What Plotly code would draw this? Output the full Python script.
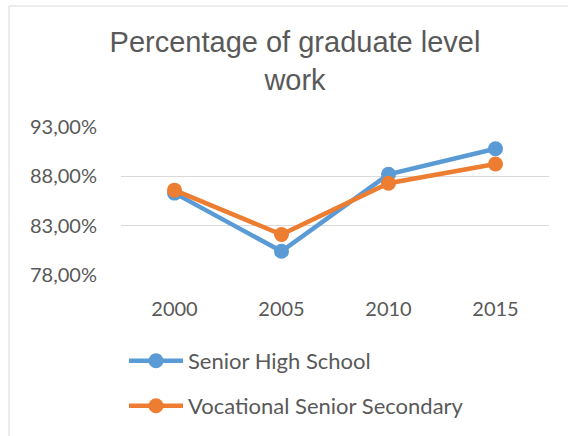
import plotly.graph_objects as go

years = ["2000", "2005", "2010", "2015"]
senior_high = [86.3, 80.4, 88.2, 90.8]
vocational = [86.6, 82.1, 87.3, 89.25]
y_ticks = [78, 83, 88, 93]
y_tick_text = [f"{v:.2f}".replace(".", ",") + "%" for v in y_ticks]
series_names = ["Senior High School", "Vocational Senior Secondary"]

BLUE = "#5B9BD5"
ORANGE = "#ED7D31"
TXT = "#595959"
FONT = "Lato, 'Open Sans', sans-serif"

W, H = 568, 436
L, R, T, B = 121, 19, 127, 161
pw, ph = W - L - R, H - T - B

def px_to_paper_x(px):
    return (px - L) / pw

def px_to_paper_y(py):
    return (H - B - py) / ph

fig = go.Figure()
fig.add_trace(go.Scatter(x=years, y=senior_high, name=series_names[0], mode="lines+markers",
                         line=dict(color=BLUE, width=4.5), marker=dict(color=BLUE, size=15),
                         legend="legend", showlegend=True))
fig.add_trace(go.Scatter(x=years, y=vocational, name=series_names[1], mode="lines+markers",
                         line=dict(color=ORANGE, width=4.5), marker=dict(color=ORANGE, size=15),
                         legend="legend2", showlegend=True))

fig.update_layout(
    width=W, height=H,
    showlegend=True,
    margin=dict(l=L, r=R, t=T, b=B, autoexpand=False),
    paper_bgcolor="white", plot_bgcolor="white",
    font=dict(family=FONT, color=TXT, size=20),
    title=dict(text="Percentage of graduate level<br>work", x=295 / W, xanchor="center",
               xref="container", y=1 - 52 / H, yref="container", yanchor="top",
               font=dict(family="'Liberation Sans', Arial, sans-serif", size=29, color=TXT)),
    xaxis=dict(type="category", range=[-0.5, 3.5], showgrid=False, showline=False, zeroline=False,
               ticks="outside", ticklen=16, tickcolor="rgba(0,0,0,0)",
               tickfont=dict(size=20, color=TXT), automargin=False),
    yaxis=dict(range=[78, 93], tickvals=y_ticks, ticktext=y_tick_text,
               showgrid=True, gridcolor="#d9d9d9", gridwidth=1, zeroline=False,
               ticks="outside", ticklen=19, tickcolor="rgba(0,0,0,0)",
               tickfont=dict(size=20, color=TXT), automargin=False),
    legend=dict(x=px_to_paper_x(124), xanchor="left", y=px_to_paper_y(361),
                yanchor="middle", font=dict(size=22, color=TXT), bgcolor="rgba(0,0,0,0)",
                itemwidth=54),
    legend2=dict(x=px_to_paper_x(124), xanchor="left", y=px_to_paper_y(406),
                 yanchor="middle", font=dict(size=22, color=TXT), bgcolor="rgba(0,0,0,0)",
                 itemwidth=54),
    shapes=[dict(type="rect", xref="paper", yref="paper",
                 x0=px_to_paper_x(9), x1=px_to_paper_x(600),
                 y0=px_to_paper_y(470), y1=px_to_paper_y(6),
                 line=dict(color="#d9d9d9", width=1), fillcolor="rgba(0,0,0,0)", layer="below")],
)

fig.write_html("out.html")
